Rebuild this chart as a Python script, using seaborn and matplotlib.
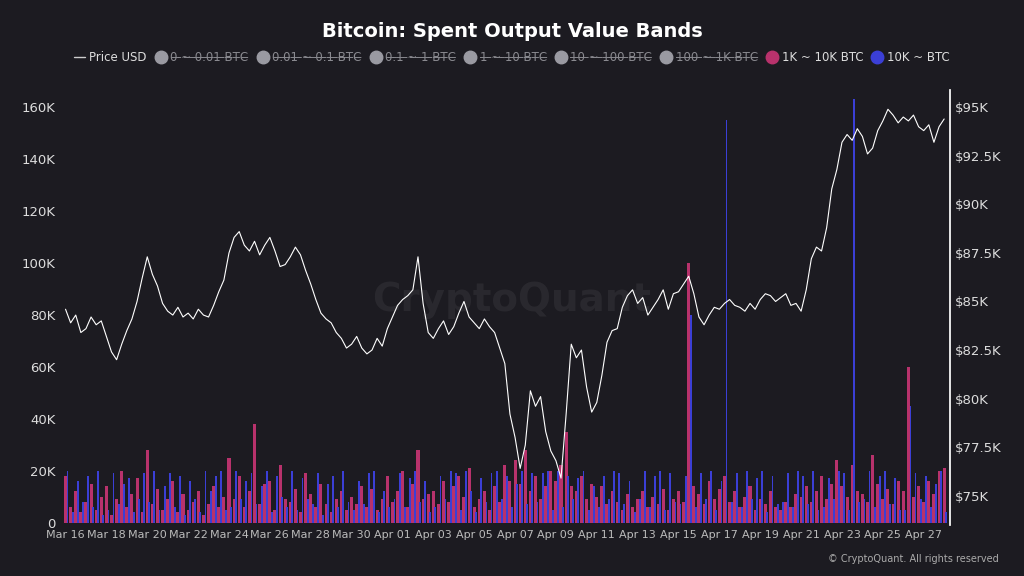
import numpy as np
import pandas as pd
import matplotlib
matplotlib.use("Agg")
import matplotlib.pyplot as plt
from matplotlib.lines import Line2D
import seaborn as sns

# 6-hourly samples starting Mar 16 00:00
price_k = [84.6,83.9,84.3,83.4, 83.6,84.2,83.8,84.0, 83.2,82.4,82.0,82.8, 83.5,84.1,85.0,86.2,
           87.3,86.4,85.8,84.9, 84.5,84.3,84.7,84.2, 84.4,84.1,84.6,84.3, 84.2,84.8,85.5,86.1,
           87.5,88.3,88.6,87.9, 87.6,88.1,87.4,87.9, 88.3,87.6,86.8,86.9, 87.3,87.8,87.4,86.6,
           85.9,85.1,84.4,84.1, 83.9,83.4,83.1,82.6, 82.8,83.2,82.6,82.3, 82.5,83.1,82.7,83.6,
           84.2,84.8,85.1,85.3, 85.6,87.3,84.9,83.4, 83.1,83.6,84.0,83.3, 83.7,84.4,85.0,84.2,
           83.9,83.6,84.1,83.7, 83.4,82.6,81.8,79.2, 78.0,76.4,77.6,80.4, 79.6,80.1,78.3,77.3,
           76.8,75.9,79.2,82.8, 82.1,82.5,80.6,79.3, 79.8,81.2,82.9,83.5, 83.6,84.7,85.3,85.6,
           84.9,85.2,84.3,84.7, 85.1,85.6,84.6,85.4, 85.5,85.9,86.3,85.4, 84.2,83.8,84.3,84.7,
           84.6,84.9,85.1,84.8, 84.7,84.5,84.9,84.6, 85.1,85.4,85.3,85.0, 85.2,85.4,84.8,84.9,
           84.5,85.6,87.2,87.8, 87.6,88.8,90.8,91.8, 93.2,93.6,93.3,93.9, 93.5,92.6,92.9,93.8,
           94.3,94.9,94.6,94.2, 94.5,94.3,94.6,94.0, 93.8,94.1,93.2,94.0, 94.4]

band_1k_10k = [18,6,12,4, 8,15,5,10, 14,3,9,20, 6,11,17,4, 28,7,13,5, 9,16,4,11, 5,8,12,3,
               7,14,6,10, 25,9,18,6, 12,38,7,15, 16,5,22,9, 8,13,4,19, 11,6,15,7, 4,9,12,5,
               10,7,14,6, 13,5,9,18, 8,12,20,6, 15,28,9,11, 12,7,16,8, 14,18,10,21, 6,9,12,5,
               14,8,22,16, 24,15,28,12, 18,9,14,20, 16,22,35,14, 12,18,9,15, 10,14,7,12,
               8,5,11,6, 9,12,6,10, 7,13,5,9, 12,8,100,14, 11,7,16,9, 13,18,8,12, 6,10,14,5,
               9,7,12,6, 5,8,6,11, 10,14,8,12, 18,9,15,24, 14,10,22,12, 11,8,26,15, 9,13,7,16,
               12,60,10,14, 8,16,11,20, 21]

band_10k_plus = [20,4,16,8, 18,6,20,3, 5,19,7,15, 17,4,9,19, 8,20,5,14, 19,6,18,3, 16,9,4,20,
                 12,18,20,5, 6,20,9,16, 19,7,14,20, 4,18,10,6, 20,5,17,9, 7,19,3,15, 18,6,20,8,
                 5,16,7,19, 20,4,12,6, 9,19,6,17, 20,8,16,4, 6,18,9,20, 19,5,20,12, 4,17,8,19,
                 20,9,18,6, 15,20,7,19, 8,19,20,5, 20,6,18,9, 17,20,5,14, 6,18,9,20, 19,7,16,4,
                 9,20,6,18, 20,5,19,8, 7,18,80,6, 19,9,20,5, 16,155,8,19, 6,20,9,17, 20,4,18,7,
                 8,19,6,20, 18,7,20,5, 6,17,9,20, 19,5,163,8, 9,20,6,18, 20,7,17,5, 5,45,19,9,
                 18,6,15,20, 4]

date_labels = ["Mar 16","Mar 18","Mar 20","Mar 22","Mar 24","Mar 26","Mar 28","Mar 30",
               "Apr 01","Apr 03","Apr 05","Apr 07","Apr 09","Apr 11","Apr 13","Apr 15",
               "Apr 17","Apr 19","Apr 21","Apr 23","Apr 25","Apr 27"]
left_ticks = [0, 20, 40, 60, 80, 100, 120, 140, 160]
right_ticks = [75, 77.5, 80, 82.5, 85, 87.5, 90, 92.5, 95]
legend_labels = ["Price USD","0 ~ 0.01 BTC","0.01 ~ 0.1 BTC","0.1 ~ 1 BTC","1 ~ 10 BTC",
                 "10 ~ 100 BTC","100 ~ 1K BTC","1K ~ 10K BTC","10K ~ BTC"]

BG = "#1c1b21"
PINK = "#b8326c"
BLUE = "#3b3fd6"
sns.set_theme(style="dark", rc={"axes.facecolor": BG, "figure.facecolor": BG})
plt.rcParams["font.family"] = "DejaVu Sans"

n = len(price_k)
x = np.arange(n) / 4.0
df = pd.DataFrame({"day": x, "price": np.array(price_k) * 1000,
                   "pink": np.array(band_1k_10k) * 1000, "blue": np.array(band_10k_plus) * 1000})

fig = plt.figure(figsize=(10.24, 5.76), dpi=100)
ax = fig.add_axes([0.059, 0.089, 0.869, 0.755])
ax.bar(df["day"], df["pink"], width=0.15, color=PINK, linewidth=0)
ax.bar(df["day"] + 0.1, df["blue"], width=0.09, color=BLUE, linewidth=0)
ax.set_ylim(-800, 166500)
ax.set_xlim(-0.25, 43.3)
ax.set_yticks([v * 1000 for v in left_ticks])
ax.set_yticklabels([("%dK" % v) if v else "0" for v in left_ticks], color="#dddddd", fontsize=9.5)
ax.set_xticks(np.arange(len(date_labels)) * 2)
ax.set_xticklabels(date_labels, color="#bbbbbb", fontsize=8)
ax.tick_params(length=0)
ax.grid(False)
for s in ax.spines.values():
    s.set_visible(False)

ax2 = ax.twinx()
sns.lineplot(data=df, x="day", y="price", ax=ax2, color="white", linewidth=0.8)
ax2.set_ylim(73500, 95900)
ax2.set_yticks([v * 1000 for v in right_ticks])
ax2.set_yticklabels([("$%gK" % v) for v in right_ticks], color="#dddddd", fontsize=9.5)
ax2.set_ylabel("")
ax2.set_xlabel("")
ax.set_xlabel("")
ax2.grid(False)
ax2.tick_params(length=0)
for k, s in ax2.spines.items():
    s.set_visible(k == "right")
ax2.spines["right"].set_color("white")
ax2.set_xlim(-0.25, 43.3)

fig.text(0.5, 0.945, "Bitcoin: Spent Output Value Bands", ha="center", va="center",
         color="white", fontsize=14, fontweight="bold")
fig.text(0.5, 0.48, "CryptoQuant", ha="center", va="center", color="white", alpha=0.06,
         fontsize=28, fontweight="bold")
fig.text(0.975, 0.03, "\u00a9 CryptoQuant. All rights reserved", ha="right", va="center",
         color="#aaaaaa", fontsize=7)

def strike(s):
    return "".join(c + "\u0336" for c in s)

handles = [Line2D([], [], color="#cccccc", lw=1)]
labels = [legend_labels[0]]
for lab in legend_labels[1:7]:
    handles.append(Line2D([], [], marker="o", ls="", color="#9a9aa2", markersize=9))
    labels.append(strike(lab))
handles.append(Line2D([], [], marker="o", ls="", color=PINK, markersize=9))
labels.append(legend_labels[7])
handles.append(Line2D([], [], marker="o", ls="", color=BLUE, markersize=9))
labels.append(legend_labels[8])
leg = fig.legend(handles, labels, loc="center", bbox_to_anchor=(0.5, 0.9), ncol=9, frameon=False,
                 fontsize=8.5, handlelength=0.9, handletextpad=0.35, columnspacing=0.75)
for i, t in enumerate(leg.get_texts()):
    t.set_color("#dddddd" if i in (0, 7, 8) else "#8a8a90")

fig.savefig("out.png", dpi=100, facecolor=BG)
